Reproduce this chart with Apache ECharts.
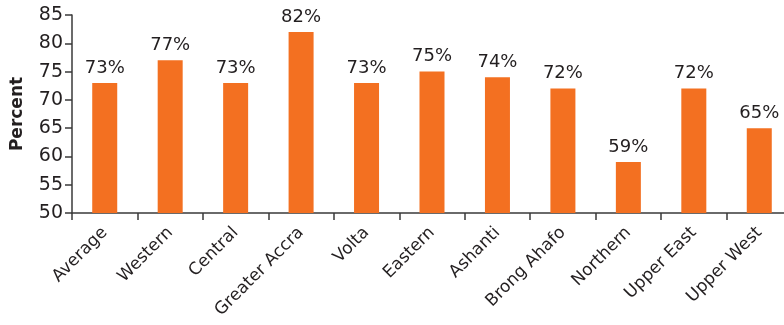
<!DOCTYPE html>
<html>
<head>
<meta charset="utf-8">
<script src="https://cdn.jsdelivr.net/npm/echarts@6/dist/echarts.min.js"></script>
<style>
  html, body { margin: 0; padding: 0; background: #fff; }
  #chart { width: 784px; height: 325px; }
</style>
</head>
<body>
<div id="chart"></div>
<script>
// Share by region, in percent
const regions = ["Average", "Western", "Central", "Greater Accra", "Volta", "Eastern",
  "Ashanti", "Brong Ahafo", "Northern", "Upper East", "Upper West"];
const percentValues = [73, 77, 73, 82, 73, 75, 74, 72, 59, 72, 65];
const yTicks = [50, 55, 60, 65, 70, 75, 80, 85];

const textColor = "#231f20";
const fontFamily = "'DejaVu Sans', sans-serif";

const chart = echarts.init(document.getElementById("chart"), null, { renderer: "canvas" });
chart.setOption({
  animation: false,
  grid: { left: 72, right: -8, top: 15, bottom: 112, containLabel: false, outerBoundsMode: "none" },
  xAxis: {
    type: "category",
    data: regions,
    axisLine: { lineStyle: { color: "#3a3a3a", width: 1.5 } },
    axisTick: { show: true, length: 7, alignWithLabel: false, lineStyle: { color: "#3a3a3a", width: 1.5 } },
    axisLabel: {
      rotate: 45, interval: 0, margin: 17,
      color: textColor, fontSize: 17, fontFamily: fontFamily
    }
  },
  yAxis: {
    type: "value",
    min: yTicks[0], max: yTicks[yTicks.length - 1], interval: 5,
    name: "Percent",
    nameLocation: "middle",
    nameGap: 46,
    nameRotate: 90,
    nameTextStyle: { color: textColor, fontSize: 17, fontWeight: "bold", fontFamily: fontFamily },
    splitLine: { show: false },
    axisLine: { show: true, lineStyle: { color: "#3a3a3a", width: 1.5 } },
    axisTick: { show: true, length: 7, lineStyle: { color: "#3a3a3a", width: 1.5 } },
    axisLabel: { color: textColor, fontSize: 19, fontFamily: fontFamily, margin: 9 }
  },
  series: [{
    type: "bar",
    data: percentValues,
    barWidth: 25,
    itemStyle: { color: "#f37021" },
    label: {
      show: true, position: "top", distance: 6,
      formatter: p => p.value + "%",
      color: textColor, fontSize: 18, fontFamily: fontFamily
    }
  }]
});
</script>
</body>
</html>
